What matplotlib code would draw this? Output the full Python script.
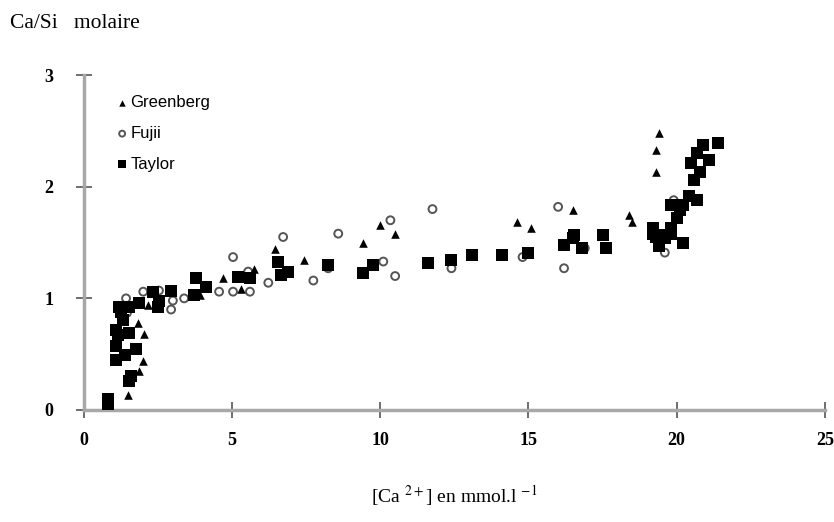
import matplotlib
matplotlib.use("Agg")
import matplotlib.pyplot as plt

# Ca/Si vs [Ca2+]
greenberg_x = [0.84, 1.49, 1.86, 1.99, 2.03, 1.82, 2.16, 3.9, 4.7, 5.3, 5.74,
               6.45, 7.43, 9.43, 10.0, 10.5, 14.6, 15.1, 16.5, 18.4, 18.5,
               19.3, 19.3, 19.4]
greenberg_y = [0.05, 0.13, 0.35, 0.44, 0.68, 0.78, 0.94, 1.03, 1.18, 1.08, 1.26,
               1.44, 1.34, 1.5, 1.66, 1.58, 1.68, 1.63, 1.79, 1.75, 1.68,
               2.13, 2.33, 2.48]

fujii_x = [1.42, 1.45, 2.0, 2.53, 2.94, 3.0, 3.38, 4.56, 5.03, 5.6, 5.03, 5.54,
           6.22, 6.72, 7.74, 8.58, 8.24, 10.1, 10.5, 10.34, 11.76, 12.4, 14.8,
           16.0, 16.2, 16.9, 19.6, 19.9]
fujii_y = [1.0, 0.87, 1.06, 1.07, 0.9, 0.98, 1.0, 1.06, 1.06, 1.06, 1.37, 1.24,
           1.14, 1.55, 1.16, 1.58, 1.27, 1.33, 1.2, 1.7, 1.8, 1.27, 1.37,
           1.82, 1.27, 1.45, 1.41, 1.88]

taylor_x = [0.8, 0.8, 1.52, 1.59, 1.08, 1.39, 1.76, 1.08, 1.15, 1.52, 1.08, 1.32,
            1.25, 1.52, 1.18, 1.86, 2.33, 2.5, 2.53, 2.94, 3.72, 3.78, 4.12,
            5.2, 5.6, 6.55, 6.66, 6.9, 8.24, 9.43, 9.76, 11.6, 12.4, 13.1,
            14.1, 15.0, 16.2, 16.5, 16.55, 16.8, 17.5, 17.6, 19.2, 19.3, 19.4,
            19.6, 19.4, 19.8, 19.8, 20.0, 20.1, 19.8, 20.2, 20.2, 20.4, 20.7,
            20.6, 20.8, 20.5, 21.1, 20.7, 20.9, 21.4, 19.2, 19.5]
taylor_y = [0.1, 0.05, 0.26, 0.3, 0.45, 0.49, 0.55, 0.57, 0.67, 0.69, 0.72, 0.81,
            0.88, 0.92, 0.92, 0.96, 1.06, 0.92, 0.98, 1.07, 1.03, 1.18, 1.1,
            1.19, 1.18, 1.33, 1.21, 1.24, 1.3, 1.23, 1.3, 1.32, 1.34, 1.39,
            1.39, 1.41, 1.48, 1.54, 1.57, 1.45, 1.57, 1.45, 1.63, 1.55, 1.5,
            1.54, 1.47, 1.58, 1.63, 1.72, 1.79, 1.84, 1.84, 1.5, 1.92, 1.88,
            2.06, 2.13, 2.21, 2.24, 2.3, 2.37, 2.39, 1.58, 1.57]

x_ticks = [0, 5, 10, 15, 20, 25]
y_ticks = [0, 1, 2, 3]

plt.rcParams['mathtext.fontset'] = 'stix'

fig = plt.figure(figsize=(8.34, 5.22), dpi=100)
ax = fig.add_axes([0.1007, 0.2146, 0.8883, 0.6414])

ax.scatter(taylor_x, taylor_y, marker='s', s=68, color='black', linewidths=0,
           label='Taylor', zorder=3)
ax.scatter(greenberg_x, greenberg_y, marker='^', s=38, color='black',
           linewidths=0, label='Greenberg', zorder=4)
ax.scatter(fujii_x, fujii_y, marker='o', s=32, facecolors='none',
           edgecolors='#555555', linewidths=1.4, label='Fujii', zorder=2)

ax.set_xlim(0, 25)
ax.set_ylim(0, 3)
ax.set_xticks(x_ticks)
ax.set_yticks(y_ticks)

for side in ('top', 'right'):
    ax.spines[side].set_visible(False)
for side in ('left', 'bottom'):
    ax.spines[side].set_color('#a8a8a8')
    ax.spines[side].set_linewidth(2.5)

ax.tick_params(direction='inout', length=12, width=1.2, color='#555555',
               labelsize=13)
ax.tick_params(axis='x', pad=10)
ax.tick_params(axis='y', pad=16)
for lab in ax.get_xticklabels() + ax.get_yticklabels():
    lab.set_fontfamily('Liberation Serif')
    lab.set_fontweight('bold')

# legend, order as in the reference
h, l = ax.get_legend_handles_labels()
order = [1, 2, 0]
ax.legend([h[i] for i in order], [l[i] for i in order], loc='upper left',
          bbox_to_anchor=(0.02, 0.985), frameon=False, markerscale=0.75,
          handletextpad=0.0, handlelength=1.0, labelspacing=0.95,
          prop={'family': 'Liberation Sans', 'size': 12})

fig.text(0.012, 0.955, 'Ca/Si   molaire', family='Liberation Serif',
         fontsize=15.5, ha='left', va='center')
fig.text(0.545, 0.05, r'[Ca $^{2+}$] en mmol.l $^{-1}$',
         family='Liberation Serif', fontsize=14, ha='center', va='center')

fig.savefig('out.png', dpi=100)
